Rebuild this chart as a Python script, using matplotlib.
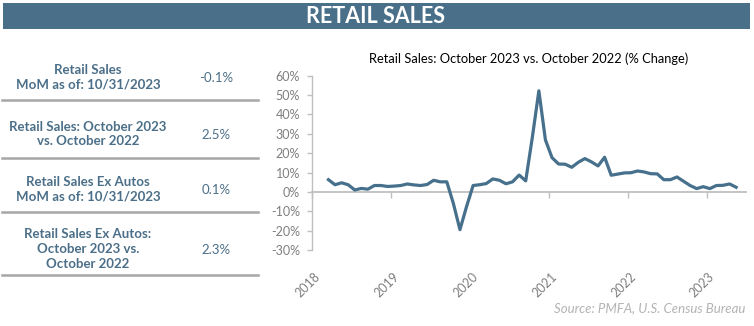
import matplotlib.pyplot as plt
import matplotlib.transforms as mtransforms
from matplotlib.patches import Rectangle
from matplotlib.ticker import FuncFormatter

# monthly yoy % change, Aug 2018 - Oct 2023
yoy_change = [6.3, 3.7, 4.7, 3.7, 1.0, 1.8, 1.4, 3.3, 3.3, 2.8,
              3.0, 3.3, 4.1, 3.6, 3.3, 3.8, 6.0, 5.2, 5.2, -6.0,
              -19.5, -7.6, 3.3, 3.7, 4.3, 6.7, 6.0, 4.2, 5.2, 8.7,
              5.7, 28.0, 52.2, 26.8, 17.7, 14.4, 14.3, 12.7, 15.3, 17.2,
              15.5, 13.4, 17.9, 8.6, 9.2, 9.8, 9.9, 10.8, 10.3, 9.4,
              9.3, 6.3, 6.3, 7.7, 5.5, 3.3, 1.7, 2.7, 1.7, 3.3,
              3.4, 4.1, 2.4]
year_labels = ['2018', '2019', '2020', '2021', '2022', '2023']
year_pos = [-2.5, 9.5, 21.5, 33.5, 45.5, 57.5]

table_labels = ['Retail Sales\nMoM as of: 10/31/2023',
                'Retail Sales: October 2023\nvs. October 2022',
                'Retail Sales Ex Autos\nMoM as of: 10/31/2023',
                'Retail Sales Ex Autos:\nOctober 2023 vs.\nOctober 2022']
table_values = ['-0.1%', '2.5%', '0.1%', '2.3%']

BLUE = '#46708b'
TEXT_BLUE = '#4b6f88'
GRAY = '#bfbfbf'
FONT = 'Lato'

fig = plt.figure(figsize=(7.54, 3.26), dpi=100)
W, H = 754, 326

def px(x, y):
    return x / W, 1 - y / H

# header band
fig.patches.append(Rectangle(px(3, 28.7), 747 / W, 25.4 / H, transform=fig.transFigure,
                             facecolor='#4a7089', edgecolor='none'))
fig.text(*px(376, 16.5), 'RETAIL SALES', ha='center', va='center', color='white',
         fontsize=15.5, fontweight='bold', family=FONT)

# left table
label_y = [77, 134, 189, 249]
line_y = [100, 158, 212, 275]
for lab, val, ly in zip(table_labels, table_values, label_y):
    fig.text(*px(88, ly), lab, ha='center', va='center', color=TEXT_BLUE,
             fontsize=9.5, fontweight='bold', family=FONT, linespacing=1.25)
    fig.text(*px(216, ly + 1), val, ha='center', va='center', color=TEXT_BLUE,
             fontsize=9.5, family=FONT)
for ly in line_y:
    fig.add_artist(plt.Line2D([2 / W, 258 / W], [1 - ly / H] * 2, transform=fig.transFigure,
                              color='#a6a6a6', lw=1.8))

# chart
ax = fig.add_axes([312 / W, 1 - 250 / H, (746 - 312) / W, (250 - 75.7) / H])
ax.plot(range(len(yoy_change)), yoy_change, color=BLUE, lw=2.3, solid_joinstyle='round')
ax.set_xlim(-2.5, 63.5)
ax.set_ylim(-30, 60)
ax.set_yticks(range(-30, 61, 10))
ax.yaxis.set_major_formatter(FuncFormatter(lambda v, p: f'{int(v)}%'))
ax.tick_params(axis='y', colors=GRAY, labelcolor='#7f7f7f', length=3.5, width=1,
               pad=5, labelsize=9)
for s in ['top', 'right', 'bottom']:
    ax.spines[s].set_visible(False)
ax.spines['left'].set_color(GRAY)
ax.spines['left'].set_linewidth(1)

ax.set_xticks(year_pos)
ax.set_xticklabels(year_labels, rotation=45, ha='right', va='center',
                   rotation_mode='anchor', color='#7f7f7f', fontsize=9, family=FONT)
ax.tick_params(axis='x', length=0, pad=18)
shift = mtransforms.ScaledTranslation(0.06, 0, fig.dpi_scale_trans)
for t in ax.get_xticklabels():
    t.set_transform(t.get_transform() + shift)
for t in ax.get_yticklabels():
    t.set_family(FONT)

zero_ax = ax.secondary_xaxis(1 / 3)
zero_ax.set_xticks(year_pos)
zero_ax.set_xticklabels([])
zero_ax.tick_params(axis='x', direction='out', length=4, color=GRAY, width=1)
zero_ax.spines['bottom'].set_color(GRAY)
zero_ax.spines['bottom'].set_linewidth(1.3)

fig.text(*px(529, 59), 'Retail Sales: October 2023 vs. October 2022 (% Change)',
         ha='center', va='center', fontsize=9.3, color='black', family=FONT)
fig.text(*px(745, 308), 'Source: PMFA, U.S. Census Bureau', ha='right', va='center',
         fontsize=9.5, style='italic', color='#b3b3b3', family=FONT)

fig.savefig('out.png', dpi=100)
